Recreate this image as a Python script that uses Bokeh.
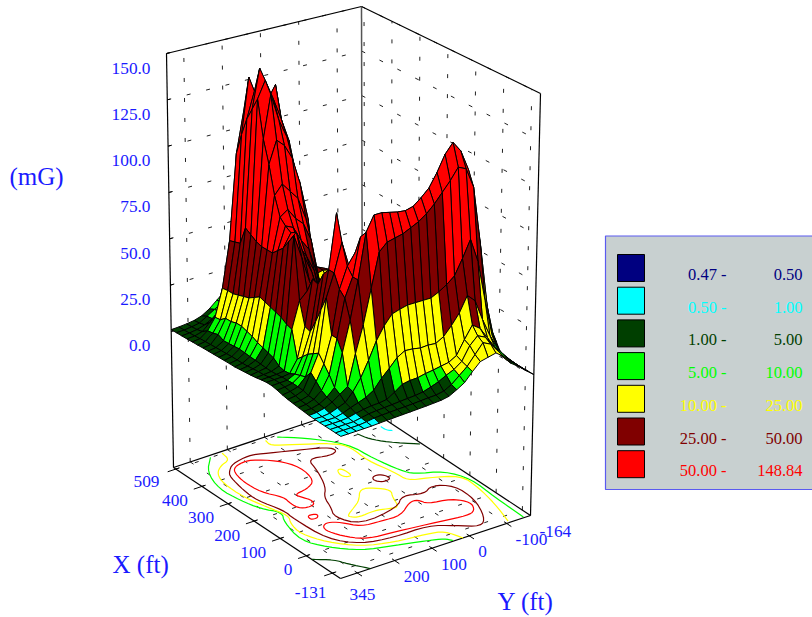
from bokeh.plotting import figure
from bokeh.models import Range1d, ColumnDataSource
from bokeh.core.properties import value
from bokeh.embed import file_html
from bokeh.resources import INLINE

# ---- field values (mG): one list per X row, 509 ft -> -131 ft; each from Y = 345 ft -> -164 ft
r00=[1,1.2,1.6,2.2,3.5,6,9.5,13,15,15,14,12,9,5.5,4,3.2,2.6,2,1.5,1.2,1,.85,.7,.6,.52,.5]
r01=[1.1,1.3,1.8,2.6,5,7.5,10.2,15,19,20,18,14,9.5,7,5.5,4.2,3.2,2.4,1.7,1.3,1.05,.9,.72,.6,.52,.5]
r02=[1.2,1.5,2.1,3.4,5.5,8,10.5,17,23,24,21,16,10,8,6,5.2,3.6,2.6,1.8,1.4,1.1,.9,.72,.6,.52,.5]
r03=[1.3,1.7,2.8,6.5,10.5,17,28,40,47,36,24,20,16,10.5,8,6,4.5,3.2,2.2,1.6,1.2,1,.8,.62,.54,.5]
r04=[1.5,2,5,11,25.5,50,96,118,105,85,62,40,32,25,16,10.5,7,5,3.4,2.4,1.7,1.2,.95,.75,.56,.5]
r05=[1.6,2.2,5.5,11.5,26,51,108,138,118,100,72,50,38,29,25,20,13,8.5,5,3.2,2.2,1.5,1,.8,.6,.5]
r06=[1.8,2.4,6.5,14,26,52,118,132,124,112,85,58,42,33,29,27,25,13,7,3.5,1.8,1,.85,.72,.6,.5]
r07=[1.9,2.5,5,14,27,62,125,146,128,135,108,62,36,24,26,27,26,18,10.2,4.4,2.6,1,.85,.72,.6,.5]
r08=[2,2.7,5.2,15,28,60,132,141,130,118,105,60,38,24,22,22,20,16,10.4,5,2.8,1.2,.95,.76,.62,.5]
r09=[2.1,2.8,5.5,15,29,58,112,135,120,110,92,65,30,22,19,17,15,13,10.3,5,3,1.5,.9,.72,.6,.5]
r10=[2.2,3,5.8,14,31,57,100,112,108,100,85,65,28,20,15,12.5,12,11,10.3,5,3,1.6,.95,.75,.6,.5]
r11=[2.3,3,5.5,13,33,57,85,90,85,80,68,30,24,16,10,9.5,10.5,11,10.3,5.2,3.2,1.8,1.1,.8,.62,.5]
r12=[2.3,3,5.3,11.5,32,57,75,78,72,68,58,36,22,15,9.8,9.5,11,11.5,10.2,5.5,3.6,2,1.2,.85,.65,.5]
r13=[2.6,3.2,5,10.5,31,60,72,70,62,56,42,30,21,14,10.5,10.8,12,13,10.4,6,3.8,2.2,1.3,.9,.7,.55]
r14=[2.9,3.5,4.8,9.5,30,63,70,62,55,46,30,26,20,15,12,12,14,14,10.5,6,4,2.4,1.4,1,.75,.6]
r15=[3.2,3.8,4.5,8.5,29,68,72,58,48,34,28,22,18,14,12,13,20,26,13,9.5,4.6,3,1.8,1.2,.85,.65]
r16=[3.6,4,4.4,6,27,73,60,46,40,32,26,21,16,12,9.8,14,24,26,15,10,6,3.5,2.2,1.4,1,.75]
r17=[4.2,4.4,4.6,5.2,26,40,44,42,36,30,25,18,13,10.5,9.5,9,12,16,13,10.4,8,4.8,2.8,1.7,1.2,.85]
r18=[4.6,4.8,4.9,5.5,12,28,52,48,38,30,24,18,13,9.5,9,8.5,8.5,9.5,11,11,11,10.5,6,3.5,1.8,1.1]
r19=[4.6,4.8,5,7,15,27,51,45,36,28,24,17,11,8.5,8,7.5,8,9.2,12,12,12,11,10.5,5.5,3,1.8]
r20=[4,4.4,5.2,8,18,34,58,56,46,36,26,18,11,9.5,8.5,8,10,24,18,15,18,24,22,16,6,3]
r21=[3.2,3.8,5,9,20,42,62,91,50,34,24,14,10.5,9,8.5,8.8,14,26,28,26,28,30,27,18,7,3.5]
r22=[2.6,3.2,4.8,13,22,50,62,77,62,40,27,20,15,13,12,14,25,38,52,44,38,40,36,18,7,3.5]
r23=[2.2,2.6,3.8,10,18,32,55,66,72,58,50,50,46,45,48,50,56,60,60,50,48,44,30,20,8,3.5]
r24=[1.8,2.2,3.6,7,14,32,52,62,82,72,72,74,76,76,78,80,85,90,95,100,98,85,60,32,10,2.5]
r25=[1.5,1.8,2.8,5.2,9,26,42,62,86,94,94,93,92,91.5,92.6,96,100,107,115.5,120.7,115,104,80,46,17.5,6.6]
r26=[1.1,1.5,2.4,4.4,7.2,10,26,40,58,76,80,81,82,84,86,89,93,98,103,109,107,96,64,30,10.4,1.1]
r27=[.97,.99,1.5,3,4.6,9,15,23,32,38.7,43.7,45,46,46,46,46,48,50.6,54,62,71,58,36,16,6.8,1.3]
r28=[.85,.92,.98,2,3.6,5,6.5,9,14,18,22.4,24.8,24.5,23.7,24,23.6,26,30.6,36,44,40,28.8,19,11,4.5,1]
r29=[.8,.88,.95,1.4,2.4,3.2,3.8,4,4.6,7.1,10,10.8,11,11.9,12.5,13.3,14,16.4,23.5,30,27,20.6,14.3,9.8,5.2,1.1]
r30=[.75,.82,.9,.97,1.8,2.6,3,3.3,3.6,4,4.3,4.6,5.2,6.5,8,10.2,12,15,22,26,24,18,12,8.5,4.8,1.1]
r31=[.7,.78,.85,.92,1.4,2.1,2.4,2.6,2.8,3,3.2,3.5,3.8,4,4.8,7,10.5,14,19,24,22,17,11.5,8,4.6,1.2]
r32=[.6,.68,.75,.82,.95,1.2,1.4,1.6,1.8,2,2.2,2.4,2.7,3,3.8,6,8.5,13,17,18,19,16,11,8,4.5,1.2]
Z=[r00,r01,r02,r03,r04,r05,r06,r07,r08,r09,r10,r11,r12,r13,r14,r15,r16,r17,r18,r19,r20,r21,r22,r23,r24,r25,r26,r27,r28,r29,r30,r31,r32]

# ---- axes
X_MAX, X_MIN = 509, -131
Y_MAX, Y_MIN = 345, -164
Z_MAX, Z_FLOOR = 150, -73.4
x_ticks=[500,400,300,200,100,0,-100]
y_ticks=[300,200,100,0,-100]
z_ticks=[0,25,50,75,100,125,150]
x_labels=["509","400","300","200","100","0","-131"]
x_label_at=[509,400,300,200,100,0,-131]
y_labels=["345","200","100","0","-100","-164"]
y_label_at=[345,200,100,0,-100,-164]
z_labels=["0.0","25.0","50.0","75.0","100.0","125.0","150.0"]

# ---- legend
leg_low=["0.47 -","0.50 -","1.00 -","5.00 -","10.00 -","25.00 -","50.00 -"]
leg_high=["0.50","1.00","5.00","10.00","25.00","50.00","148.84"]
band_limits=[0.5,1,5,10,25,50,1e9]
band_colors=["#000080","#00ffff","#003f00","#00ff00","#ffff00","#800000","#ff0000"]

# ---- contour lines on the floor, (X ft, Y ft)
c50=[[(429,239),(440,213),(440,186),(403,140),(348,116),(279,128),(256,163),(250,203),(226,193),(205,185),(183,195),(188,229),(220,233),(254,227),(303,255),(363,258),(405,251),(429,239)],
 [(154,235),(147,212),(131,222),(133,240),(154,235)],
 [(92,237),(102,217),(85,193),(43,169),(38,118),(34,67),(75,16),(73,-5),(45,-12),(34,-68),(-4,-94),(-41,-78),(-51,-52),(-39,11),(-21,124),(-13,190),(19,221),(66,242),(92,237)]]
c25=[[(420,258),(448,230),(459,177),(450,152),(420,83),(390,14),(365,5),(354,31),(371,82),(314,95),(239,125),(203,155),(156,170),(113,191),(51,163),(70,51),(110,12),(87,-33),(111,-68),(81,-109),(4,-109),(-79,-78),(-111,-47),(-73,-2),(-39,46),(-41,138),(-24,215),(38,262),(158,268),(203,263),(275,284),(331,281),(399,269),(420,258)],
 [(218,15),(221,-2),(207,-14),(188,-14),(186,10),(203,21),(218,15)]]
c10=[[(502,219),(467,224),(456,255),(429,284),(382,299),(305,299),(237,284),(177,268),(143,287),(92,296),(26,271),(-33,222),(-60,151),(-70,69),(-82,32),(-131,17)],
 [(495,107),(469,112),(443,67),(397,-8),(360,-28),(288,-21),(209,-38),(160,-39),(145,-82),(111,-148),(45,-147),(-41,-132),(-124,-109)],
 [(292,57),(288,46),(250,46),(252,62),(270,67),(292,57)],
 [(102,163),(126,128),(145,102),(189,69),(174,40),(145,16),(115,33),(68,48),(77,73),(87,102),(81,146),(92,161),(102,163)]]
c5=[[(501,251),(448,297),(369,321),(297,314),(239,300),(198,271),(158,294),(66,314),(6,284),(-49,233),(-73,160),(-96,87),(-111,52),(-128,42)],
 [(493,77),(456,31),(378,-31),(286,-38),(207,-54),(177,-69),(149,-130),(85,-157),(-15,-150),(-128,-147)]]
c1=[[(-21,345),(-51,306),(-83,293),(-131,265)],
 [(403,-75),(369,-83),(333,-107),(284,-160)]]
c05=[[(401,-137),(382,-137),(371,-147)]]


def lerp(a, b, t):
    return a + (b - a) * t


def project(x, y, z):
    """Box coordinates to page position, trilinear between the box's eight corners."""
    u = (X_MAX - x) / (X_MAX - X_MIN)
    v = (Y_MAX - y) / (Y_MAX - Y_MIN)
    t = (z - Z_FLOOR) / (Z_MAX - Z_FLOOR)
    out = []
    for k in (0, 1):
        near = lerp((173, 467)[k], (340, 578)[k], u)
        far = lerp((362, 404)[k], (530, 515)[k], u)
        low = lerp(near, far, v)
        near = lerp((166, 53)[k], (341, 149)[k], u)
        far = lerp((361, 6)[k], (540, 93)[k], u)
        high = lerp(near, far, v)
        out.append(lerp(low, high, t))
    return out


def path(points):
    pts = [project(*q) for q in points]
    return [a[0] for a in pts], [a[1] for a in pts]


def rounded(line, passes=2):
    """Round the corners of a polyline drawn from read-off points."""
    closed = line[0] == line[-1]
    for _ in range(passes):
        out = [] if closed else [line[0]]
        for a, b in zip(line[:-1], line[1:]):
            out.append((a[0] * .75 + b[0] * .25, a[1] * .75 + b[1] * .25))
            out.append((a[0] * .25 + b[0] * .75, a[1] * .25 + b[1] * .75))
        out.append(out[0] if closed else line[-1])
        line = out
    return line


p = figure(width=812, height=617, x_range=Range1d(0, 812), y_range=Range1d(617, 0),
           toolbar_location=None, output_backend="svg", min_border=0,
           outline_line_color=None, background_fill_color="white", border_fill_color="white")
p.axis.visible = False
p.grid.visible = False
p.styles = {"position": "absolute", "left": "0px", "top": "0px"}


def lines(segments, **kw):
    xs, ys = [], []
    for s in segments:
        a, b = path(s)
        xs.append(a); ys.append(b)
    p.multi_line(xs, ys, **kw)


# dashed grid on the floor and the two back walls
grid = []
for x in x_ticks:
    grid.append([(x, Y_MAX, Z_FLOOR), (x, Y_MIN, Z_FLOOR)])
    grid.append([(x, Y_MIN, Z_FLOOR), (x, Y_MIN, Z_MAX)])
for y in y_ticks:
    grid.append([(X_MAX, y, Z_FLOOR), (X_MIN, y, Z_FLOOR)])
    grid.append([(X_MAX, y, Z_FLOOR), (X_MAX, y, Z_MAX)])
for z in z_ticks:
    grid.append([(X_MAX, Y_MAX, z), (X_MAX, Y_MIN, z)])
    grid.append([(X_MAX, Y_MIN, z), (X_MIN, Y_MIN, z)])
lines(grid, line_color="#222222", line_width=1, line_dash="4 16")

# frame of the box
frame = [
    [(X_MAX, Y_MAX, Z_FLOOR), (X_MIN, Y_MAX, Z_FLOOR)],
    [(X_MIN, Y_MAX, Z_FLOOR), (X_MIN, Y_MIN, Z_FLOOR)],
    [(X_MIN, Y_MIN, Z_FLOOR), (X_MAX, Y_MIN, Z_FLOOR)],
    [(X_MAX, Y_MIN, Z_FLOOR), (X_MAX, Y_MAX, Z_FLOOR)],
    [(X_MAX, Y_MAX, Z_FLOOR), (X_MAX, Y_MAX, Z_MAX)],
    [(X_MIN, Y_MIN, Z_FLOOR), (X_MIN, Y_MIN, Z_MAX)],
    [(X_MAX, Y_MAX, Z_MAX), (X_MAX, Y_MIN, Z_MAX)],
    [(X_MAX, Y_MIN, Z_MAX), (X_MIN, Y_MIN, Z_MAX)],
]
lines(frame, line_color="black", line_width=1.2)
lines([[(X_MAX, Y_MIN, Z_FLOOR), (X_MAX, Y_MIN, Z_MAX)]], line_color="#555555", line_width=1.5)

# ticks on the two front floor edges and on the left upright
ticks = []
for x in x_ticks:
    ticks.append([(x, Y_MAX + 22, Z_FLOOR), (x, Y_MAX - 8, Z_FLOOR)])
for y in y_ticks:
    ticks.append([(X_MIN - 18, y, Z_FLOOR), (X_MIN + 10, y, Z_FLOOR)])
for z in z_ticks:
    ticks.append([(X_MAX, Y_MAX, z), (X_MAX, Y_MAX - 8, z)])
lines(ticks, line_color="black", line_width=1)

# contours on the floor
for group, color in ((c05, "#00ffff"), (c1, "#003f00"), (c5, "#00ff00"), (c10, "#ffff00"), (c25, "#800000"), (c50, "#ff0000")):
    lines([[(a, b, Z_FLOOR) for a, b in rounded(line)] for line in group], line_color=color, line_width=1.2)

# surface, painted from the back corner to the front corner; a cell takes the band of its lowest corner
n_x, n_y = len(Z), len(Z[0])
x_at = [lerp(X_MAX, X_MIN, i / (n_x - 1)) for i in range(n_x)]
y_at = [lerp(Y_MAX, Y_MIN, j / (n_y - 1)) for j in range(n_y)]
xs, ys, fills = [], [], []
for i in range(n_x - 1):
    for j in range(n_y - 2, -1, -1):
        corners = [(i, j), (i + 1, j), (i + 1, j + 1), (i, j + 1)]
        a, b = path([(x_at[m], y_at[n], Z[m][n]) for m, n in corners])
        low = min(Z[m][n] for m, n in corners)
        xs.append(a); ys.append(b)
        fills.append(next(c for lim, c in zip(band_limits, band_colors) if low < lim))
p.patches("xs", "ys", source=ColumnDataSource(dict(xs=xs, ys=ys, fill=fills)),
          fill_color="fill", line_color="black", line_width=1)


def label(x, y, text, size=17.3, color="#1a1aff", align="left"):
    p.text([x], [y], text=[text], text_color=color, text_font=value("Liberation Serif"),
           text_font_size=f"{size}px", text_align=align, text_baseline="middle")


for t, at in zip(x_labels, x_label_at):
    a, b = project(at, Y_MAX, Z_FLOOR)
    label(a - 14, b + 14, t, align="right")
for t, at in zip(y_labels, y_label_at):
    a, b = project(X_MIN, at, Z_FLOOR)
    label(a + 9, b + 16, t)
for t, at in zip(z_labels, z_ticks):
    a, b = project(X_MAX, Y_MAX, at)
    label(150, b + 14.5, t, align="right")
label(9, 176, "(mG)", size=25)
label(112, 564, "X (ft)", size=25)
label(497, 601, "Y (ft)", size=25)

# legend panel
p.quad(left=[605], right=[816], top=[235.5], bottom=[489], fill_color="#c8d0d0", line_color="#5a5af0", line_width=1.2)
for k, (lo, hi, c) in enumerate(zip(leg_low, leg_high, band_colors)):
    top = 254 + k * 32.7
    p.quad(left=[617], right=[644], top=[top], bottom=[top + 27], fill_color=c, line_color="black", line_width=1)
    label(726, 274 + k * 32.7, lo, size=16.5, color=c, align="right")
    label(802, 274 + k * 32.7, hi, size=16.5, color=c, align="right")

open("out.html", "w").write(file_html(p, INLINE))
